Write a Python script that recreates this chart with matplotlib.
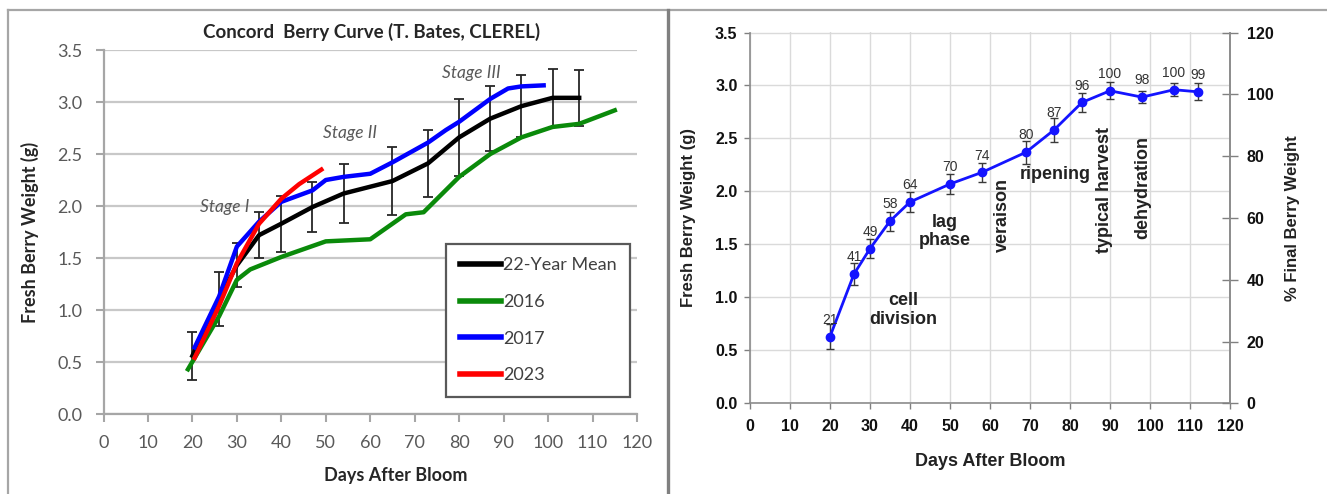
"""
Concord berry growth curves: season comparison (left) and
mean curve with % of final weight and stage notes (right).
Output: out.png
"""

import matplotlib
matplotlib.use('Agg')
import matplotlib.pyplot as plt
from matplotlib.lines import Line2D

# --- left panel data (fresh berry weight, g) ---
MEAN_DAYS = [20, 26, 30, 35, 40, 47, 54, 65, 73, 80, 87, 94, 101, 107]
MEAN_WT   = [0.56, 1.11, 1.43, 1.72, 1.83, 1.99, 2.12, 2.24, 2.41, 2.66,
             2.84, 2.96, 3.04, 3.04]
MEAN_ERR  = [0.23, 0.26, 0.21, 0.22, 0.27, 0.24, 0.28, 0.33, 0.32, 0.37,
             0.31, 0.30, 0.28, 0.27]

Y2016_DAYS = [19, 26, 30, 33, 40, 50, 60, 68, 72, 80, 87, 94, 101, 107, 115]
Y2016_WT   = [0.43, 0.94, 1.29, 1.39, 1.51, 1.66, 1.68, 1.92, 1.94, 2.28,
              2.50, 2.66, 2.76, 2.79, 2.92]

Y2017_DAYS = [20.5, 26, 30, 35, 40, 47, 50, 54, 60, 65, 73, 77, 80, 87,
              91, 94, 99]
Y2017_WT   = [0.64, 1.13, 1.61, 1.85, 2.04, 2.15, 2.25, 2.28, 2.31, 2.42,
              2.61, 2.73, 2.81, 3.03, 3.13, 3.15, 3.16]

Y2023_DAYS = [20.5, 26, 30, 35, 40, 44, 49]
Y2023_WT   = [0.54, 1.04, 1.45, 1.83, 2.07, 2.21, 2.35]

STAGES = [('Stage I', 27.2, 1.99), ('Stage II', 55.5, 2.70),
          ('Stage III', 82.8, 3.28)]

# --- right panel data ---
R_DAYS = [20, 26, 30, 35, 40, 50, 58, 69, 76, 83, 90, 98, 106, 112]
R_WT   = [0.63, 1.22, 1.46, 1.72, 1.90, 2.07, 2.18, 2.37, 2.58, 2.84,
          2.95, 2.89, 2.96, 2.94]
R_ERR  = [0.12, 0.10, 0.09, 0.09, 0.09, 0.09, 0.09, 0.11, 0.11, 0.09,
          0.08, 0.06, 0.06, 0.08]
R_PCT  = [21, 41, 49, 58, 64, 70, 74, 80, 87, 96, 100, 98, 100, 99]

NOTES = [('cell\ndivision', 38.2, 0.88, 0),
         ('lag\nphase', 48.6, 1.62, 0),
         ('veraison', 63.2, 1.78, 90),
         ('ripening', 76.2, 2.16, 0),
         ('typical harvest', 88.7, 2.01, 90),
         ('dehydration', 98.3, 2.04, 90)]

W, H = 1327, 494
LFONT = 'Lato'
RFONT = 'Liberation Sans'
TXT_GRAY = '#595959'
AX_GRAY = '#a6a6a6'


def px_box(x0, y0, x1, y1):
    """pixel box (top-left origin) -> figure fraction rect"""
    return [x0 / W, 1 - y1 / H, (x1 - x0) / W, (y1 - y0) / H]


def plot_left(fig):
    ax = fig.add_axes(px_box(103.5, 50, 637, 414))

    eb = ax.errorbar(MEAN_DAYS, MEAN_WT, yerr=MEAN_ERR, color='black',
                     lw=3.2, ecolor='#262626', elinewidth=1.3, capsize=3.5,
                     capthick=1.3, zorder=3)
    l16, = ax.plot(Y2016_DAYS, Y2016_WT, color='#0a8a0a', lw=3.2, zorder=4)
    l17, = ax.plot(Y2017_DAYS, Y2017_WT, color='#0000ff', lw=3.2, zorder=5)
    l23, = ax.plot(Y2023_DAYS, Y2023_WT, color='#ff0000', lw=3.2, zorder=6)

    for txt, x, y in STAGES:
        ax.text(x, y, txt, ha='center', va='center', fontsize=12.5,
                style='italic', color=TXT_GRAY, family=LFONT, zorder=7)

    ax.set_xlim(0, 120)
    ax.set_ylim(0, 3.5)
    ax.set_xticks(range(0, 121, 10))
    ax.set_yticks([i * 0.5 for i in range(8)])
    ax.set_yticklabels([f'{i * 0.5:.1f}' for i in range(8)])
    ax.tick_params(labelsize=13, colors=AX_GRAY, labelcolor=TXT_GRAY,
                   length=6, width=1.5)
    ax.tick_params(axis='x', pad=9)
    ax.tick_params(axis='y', pad=9)
    for lbl in ax.get_xticklabels() + ax.get_yticklabels():
        lbl.set_family(LFONT)

    ax.grid(True, axis='y', color='#c8c8c8', lw=1.6)
    ax.set_axisbelow(True)
    for s in ['top', 'right']:
        ax.spines[s].set_visible(False)
    for s in ['left', 'bottom']:
        ax.spines[s].set_color(AX_GRAY)
        ax.spines[s].set_linewidth(1.6)

    ax.set_xlabel('Days After Bloom', fontsize=13, fontweight='bold',
                  family=LFONT, color='#262626')
    ax.xaxis.set_label_coords(0.547, -0.170)
    ax.xaxis.label.set_va('center')
    ax.set_ylabel('Fresh Berry Weight (g)', fontsize=13, fontweight='bold',
                  family=LFONT, color='#262626')
    ax.yaxis.set_label_coords(-0.137, 0.5)
    ax.yaxis.label.set_va('center')

    fig.text(372 / W, 1 - 32 / H, 'Concord  Berry Curve (T. Bates, CLEREL)',
             ha='center', va='center', fontsize=13.5, fontweight='bold',
             family=LFONT, color='#262626')

    # legend with plain line handles, series order as in the sheet
    handles = [Line2D([], [], color=h.get_color(), lw=4)
               for h in (eb.lines[0], l16, l17, l23)]
    leg = ax.legend(handles, ['22-Year Mean', '2016', '2017', '2023'],
                    loc='lower right', bbox_to_anchor=(0.987, 0.047),
                    fancybox=False, framealpha=1, edgecolor='#595959',
                    handlelength=2.3, handletextpad=0.1, labelspacing=1.15,
                    borderpad=0.75, borderaxespad=0,
                    prop={'family': LFONT, 'size': 13})
    leg.get_frame().set_linewidth(1.6)
    for t in leg.get_texts():
        t.set_color('#404040')


def plot_right(fig):
    ax = fig.add_axes(px_box(750, 32.5, 1230, 403.3))

    ax.errorbar(R_DAYS, R_WT, yerr=R_ERR, fmt='-o', color='#1414ff', lw=2,
                ms=6, ecolor='#3a3a3a', elinewidth=1, capsize=3,
                capthick=1, zorder=3)
    for d, w, p in zip(R_DAYS, R_WT, R_PCT):
        ax.annotate(str(p), (d, w), xytext=(0, 7), textcoords='offset points',
                    ha='center', va='bottom', fontsize=10, color='#333333',
                    family=RFONT, zorder=4)

    for txt, x, y, rot in NOTES:
        ax.text(x, y, txt, ha='center', va='center', rotation=rot,
                fontsize=13, fontweight='bold', color='#222222',
                family=RFONT, linespacing=1.1, zorder=4)

    ax.set_xlim(0, 120)
    ax.set_ylim(0, 3.5)
    ax.set_xticks(range(0, 121, 10))
    ax.set_yticks([i * 0.5 for i in range(8)])
    ax.set_yticklabels([f'{i * 0.5:.1f}' for i in range(8)])
    ax.tick_params(labelsize=11.5, length=4, width=1, colors='#808080',
                   labelcolor='#111111', pad=5)
    ax.tick_params(axis='x', pad=7)
    for lbl in ax.get_xticklabels() + ax.get_yticklabels():
        lbl.set_family(RFONT)
        lbl.set_fontweight('bold')

    ax.grid(True, color='#dadada', lw=1)
    ax.set_axisbelow(True)
    ax.spines['top'].set_visible(False)
    for s in ['left', 'bottom', 'right']:
        ax.spines[s].set_color('#8c8c8c')
        ax.spines[s].set_linewidth(1.2)

    ax.set_xlabel('Days After Bloom', fontsize=13, fontweight='bold',
                  family=RFONT, color='#222222')
    ax.xaxis.set_label_coords(0.5, -0.158)
    ax.xaxis.label.set_va('center')
    ax.set_ylabel('Fresh Berry Weight (g)', fontsize=12, fontweight='bold',
                  family=RFONT, color='#222222')
    ax.yaxis.set_label_coords(-0.129, 0.5)
    ax.yaxis.label.set_va('center')

    ax2 = ax.twinx()
    ax2.set_ylim(0, 120)
    ax2.set_yticks(range(0, 121, 20))
    ax2.tick_params(labelsize=11.5, length=12, width=1, direction='inout',
                    colors='#808080', labelcolor='#111111', pad=6)
    for lbl in ax2.get_yticklabels():
        lbl.set_family(RFONT)
        lbl.set_fontweight('bold')
    for s in ['top', 'left', 'bottom']:
        ax2.spines[s].set_visible(False)
    ax2.spines['right'].set_color('#8c8c8c')
    ax2.spines['right'].set_linewidth(1.2)
    ax2.set_ylabel('% Final Berry Weight', fontsize=12, fontweight='bold',
                   family=RFONT, color='#222222', rotation=90)
    ax2.yaxis.set_label_coords(1.131, 0.5)
    ax2.yaxis.label.set_va('center')


def main():
    fig = plt.figure(figsize=(W / 100, H / 100), dpi=100)

    plot_left(fig)
    plot_right(fig)

    # outer frame lines of the two pasted charts
    fig.add_artist(Line2D([8 / W, 1], [1 - 10 / H, 1 - 10 / H],
                          color='#a6a6a6', lw=1.6))
    fig.add_artist(Line2D([8 / W, 8 / W], [0, 1 - 10 / H],
                          color='#a6a6a6', lw=1.6))
    fig.add_artist(Line2D([668 / W, 668 / W], [0, 1 - 10 / H],
                          color='#808080', lw=2.4))

    fig.savefig('out.png', dpi=100)
    plt.close(fig)


if __name__ == '__main__':
    main()
